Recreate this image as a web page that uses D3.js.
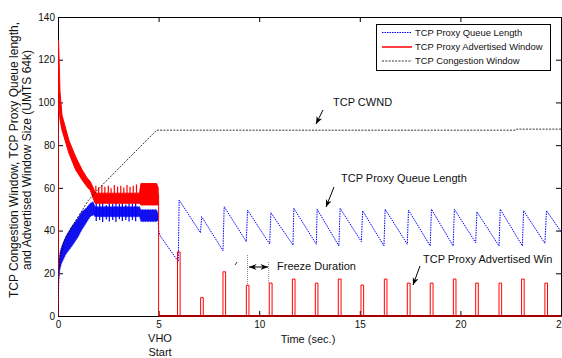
<!DOCTYPE html>
<html><head><meta charset="utf-8">
<script src="https://cdn.jsdelivr.net/npm/d3@7"></script>
<style>
html,body{margin:0;padding:0;background:#fff;}
svg{display:block;font-family:"Liberation Sans",Arial,Helvetica,sans-serif;}
</style></head>
<body><svg id="c" width="562" height="358"></svg>
<script>
// ---------- data ----------
const xTicks = [0, 5, 10, 15, 20, 25];
const yTicks = [0, 20, 40, 60, 80, 100, 120, 140];

// TCP congestion window
const cwndT = [0, 0.02, 0.1, 0.3, 0.6, 1.0, 1.5, 2.0, 4.9, 22.75, 22.8, 25];
const cwndV = [0, 20, 28, 35, 40.5, 46.5, 54, 59.4, 87, 87, 87.5, 87.5];

// Advertised window: dense oscillation before VHO (envelope)
const advBandT  = [0.01, 0.03, 0.06, 0.1, 0.2, 0.55, 0.88, 1.2, 1.45, 1.6, 1.75, 1.85, 4.05, 4.12, 4.9, 4.98];
const advBandHi = [129, 128, 118, 105, 94, 82, 74.5, 68.4, 64.6, 63, 60, 57.5, 57.5, 62, 62, 60];
const advBandLo = [120, 108, 97, 92, 87, 76, 68.4, 63.7, 60.4, 59, 55, 52.8, 52.8, 52, 52, 52];
const advSpikeT = [1.88, 2.02, 2.18, 2.33, 2.5, 2.64, 2.8, 2.96, 3.12, 3.27, 3.43, 3.58, 3.74, 3.9];
const advSpikeV = [61, 60.3, 61.3, 60.5, 61, 59.8, 61.3, 60.6, 61, 60.2, 61.3, 60.5, 61, 61.6];
// Advertised window after VHO: pulses
const advDropV = 57;
const pulseStart  = [5.94, 7.09, 8.2, 9.36, 10.5, 11.65, 12.79, 13.93, 15.06, 16.22, 17.36, 18.5, 19.65, 20.76, 21.92, 23.04, 24.2];
const pulseEnd    = [6.07, 7.22, 8.33, 9.49, 10.64, 11.78, 12.92, 14.07, 15.19, 16.35, 17.5, 18.64, 19.78, 20.89, 22.05, 23.17, 24.33];
const pulseHeight = [30, 8.6, 20.7, 14.4, 15.4, 17.3, 15.4, 17.3, 14.5, 17.3, 15.4, 15.4, 17.3, 15.4, 15.4, 17.3, 15.4];

// Proxy queue length: dense oscillation before VHO (envelope)
const qBandT  = [0.02, 0.05, 0.1, 0.18, 0.4, 0.68, 1.0, 1.18, 1.4, 1.6, 1.75, 1.85, 4.05, 4.12, 4.9, 4.97];
const qBandHi = [22, 26, 30, 32.5, 37.5, 41.8, 46, 48.8, 50.5, 52.8, 53.5, 51.2, 51.2, 49.8, 49.8, 48];
const qBandLo = [10, 17, 22, 24.7, 29, 32.5, 37, 40.3, 43.5, 46.5, 47.3, 46.5, 46.5, 44.2, 44.2, 45];
const qSpikeT  = [1.9, 2.07, 2.22, 2.4, 2.55, 2.72, 2.88, 3.05, 3.2, 3.37, 3.53, 3.7, 3.86];
const qSpikeHi = [53, 52.5, 53.2, 52, 53, 52.6, 53.2, 52.4, 53, 52.2, 53, 52.5, 53.2];
const qSpikeLo = [44.5, 45, 44, 45.2, 44.3, 45, 44, 45.3, 44.5, 45, 44.2, 45, 44.4];
// Proxy queue length after VHO: sawtooth
const qT = [4.97, 5.0, 5.08, 5.98, 6.02, 7.08, 7.14, 8.2, 8.26, 9.36, 9.42, 10.52, 10.58, 11.68, 11.72, 12.84, 12.88, 13.96, 14.02, 15.08, 15.14, 16.2, 16.26, 17.36, 17.42, 18.5, 18.56, 19.64, 19.7, 20.76, 20.82, 21.92, 21.98, 23.08, 23.14, 24.2, 24.28, 25];
const qV = [47, 40, 37.5, 25.5, 54.3, 39, 46.5, 30.6, 51.2, 34.8, 49.6, 33.7, 48.4, 33.2, 50.4, 33.6, 50, 32.8, 50.4, 34.8, 49.3, 32.8, 50, 33.6, 49.6, 32.8, 50, 32.8, 50, 34.3, 48.8, 32.8, 50, 32.8, 49.3, 34, 49.3, 39.5];

const legendLabels = ["TCP Proxy Queue Length", "TCP Proxy Advertised Window", "TCP Congestion Window"];
const yTitle = ["TCP Congestion Window, TCP Proxy Queue length,", "and Advertised Window Size (UMTS 64k)"];

// ---------- chart ----------
const svg = d3.select("#c");
const L = 58, R = 561, T = 17, B = 316;
const x = d3.scaleLinear().domain([0, 25]).range([L, R]);
const y = d3.scaleLinear().domain([0, 140]).range([B, T]);

const defs = svg.append("defs");
defs.append("clipPath").attr("id", "clip").append("rect")
  .attr("x", L).attr("y", T - 1).attr("width", R - L + 1).attr("height", B - T + 2);
defs.append("marker").attr("id", "ah").attr("viewBox", "0 0 10 8")
  .attr("refX", 10).attr("refY", 4).attr("markerWidth", 8).attr("markerHeight", 6)
  .attr("markerUnits", "userSpaceOnUse").attr("orient", "auto-start-reverse")
  .append("path").attr("d", "M0,0L10,4L0,8L3,4Z").attr("fill", "#000");

// axes (inward ticks on all four sides)
const fmt = d3.format("d");
const gx = svg.append("g").attr("transform", `translate(0,${B})`)
  .call(d3.axisBottom(x).tickValues(xTicks).tickFormat(fmt).tickSizeInner(-5).tickSizeOuter(0).tickPadding(5));
const gxt = svg.append("g").attr("transform", `translate(0,${T})`)
  .call(d3.axisTop(x).tickValues(xTicks).tickFormat("").tickSizeInner(-5).tickSizeOuter(0));
const gy = svg.append("g").attr("transform", `translate(${L},0)`)
  .call(d3.axisLeft(y).tickValues(yTicks).tickFormat(fmt).tickSizeInner(-5).tickSizeOuter(0).tickPadding(3));
const gyr = svg.append("g").attr("transform", `translate(${R},0)`)
  .call(d3.axisRight(y).tickValues(yTicks).tickFormat("").tickSizeInner(-5).tickSizeOuter(0));
[gx, gxt, gy, gyr].forEach(g => {
  g.selectAll("path.domain").attr("stroke", "#000").attr("stroke-width", 1);
  g.selectAll(".tick line").attr("stroke", "#000").attr("stroke-width", 1);
  g.selectAll(".tick text").attr("fill", "#111").attr("font-size", 10)
    .attr("font-family", "'Liberation Sans',Arial,sans-serif");
});

const plot = svg.append("g").attr("clip-path", "url(#clip)");

// queue length (blue)
const qBand = qBandT.map((t, i) => ({t, hi: qBandHi[i], lo: qBandLo[i]}));
plot.append("path").datum(qBand)
  .attr("d", d3.area().x(d => x(d.t)).y0(d => y(d.lo)).y1(d => y(d.hi)))
  .attr("fill", "#1010f0").attr("stroke", "#2020ff").attr("stroke-width", 0.8).attr("stroke-dasharray", "1.5,1");
plot.append("path").datum([[0, 0], [0.02, qBandLo[0]]])
  .attr("d", d3.line().x(d => x(d[0])).y(d => y(d[1])))
  .attr("fill", "none").attr("stroke", "#0000ff").attr("stroke-width", 1).attr("stroke-dasharray", "1.5,1");
plot.selectAll("line.qs").data(qSpikeT).join("line").attr("class", "qs")
  .attr("x1", d => x(d)).attr("x2", d => x(d))
  .attr("y1", (d, i) => y(qSpikeLo[i])).attr("y2", (d, i) => y(qSpikeHi[i]))
  .attr("stroke", "#0000ff").attr("stroke-width", 1.2);
plot.append("path").datum(qT.map((t, i) => [t, qV[i]]))
  .attr("d", d3.line().x(d => x(d[0])).y(d => y(d[1])))
  .attr("fill", "none").attr("stroke", "#0000ff").attr("stroke-width", 1).attr("stroke-dasharray", "1.5,1");

// advertised window (red)
const advBand = advBandT.map((t, i) => ({t, hi: advBandHi[i], lo: advBandLo[i]}));
plot.append("path").datum(advBand)
  .attr("d", d3.area().x(d => x(d.t)).y0(d => y(d.lo)).y1(d => y(d.hi)))
  .attr("fill", "#ff0000").attr("stroke", "#ff0000").attr("stroke-width", 1);
plot.append("path").datum([[0, 0], [0, advBandHi[0]]])
  .attr("d", d3.line().x(d => x(d[0])).y(d => y(d[1])))
  .attr("fill", "none").attr("stroke", "#ff0000").attr("stroke-width", 1.5);
plot.selectAll("line.as").data(advSpikeT).join("line").attr("class", "as")
  .attr("x1", d => x(d)).attr("x2", d => x(d))
  .attr("y1", y(advBandHi[11])).attr("y2", (d, i) => y(advSpikeV[i]))
  .attr("stroke", "#ff0000").attr("stroke-width", 1.2);
const pulsePts = [[5, advDropV], [5, 0]];
pulseStart.forEach((s, i) => {
  pulsePts.push([s, 0], [s, pulseHeight[i]], [pulseEnd[i], pulseHeight[i]], [pulseEnd[i], 0]);
});
pulsePts.push([25, 0]);
plot.append("path").datum(pulsePts)
  .attr("d", d3.line().x(d => x(d[0])).y(d => y(d[1])))
  .attr("fill", "none").attr("stroke", "#ff0000").attr("stroke-width", 1);
plot.append("line").attr("x1", x(5)).attr("x2", x(25)).attr("y1", y(0)).attr("y2", y(0))
  .attr("stroke", "#a80000").attr("stroke-width", 2);

// congestion window (black dashed)
plot.append("path").datum(cwndT.map((t, i) => [t, cwndV[i]]))
  .attr("d", d3.line().x(d => x(d[0])).y(d => y(d[1])))
  .attr("fill", "none").attr("stroke", "#000").attr("stroke-width", 0.8).attr("stroke-dasharray", "2,1.3");

// ---------- legend ----------
const lg = svg.append("g");
lg.append("rect").attr("x", 376.5).attr("y", 24.5).attr("width", 174).attr("height", 46)
  .attr("fill", "#fff").attr("stroke", "#000").attr("stroke-width", 1);
const lgStyles = [
  {c: "#0000ff", da: "1.5,1", w: 1},
  {c: "#ff0000", da: null, w: 1.5},
  {c: "#000", da: "2,1.3", w: 0.8}
];
const lgY = [32.5, 47, 61];
legendLabels.forEach((lab, i) => {
  lg.append("line").attr("x1", 382).attr("x2", 412).attr("y1", lgY[i]).attr("y2", lgY[i])
    .attr("stroke", lgStyles[i].c).attr("stroke-width", lgStyles[i].w)
    .attr("stroke-dasharray", lgStyles[i].da);
  lg.append("text").attr("x", 415).attr("y", lgY[i]).attr("dy", "0.35em")
    .attr("font-size", 9.4).attr("fill", "#111").text(lab);
});

// ---------- labels ----------
const yt = svg.append("text").attr("transform", "translate(14,160) rotate(-90)")
  .attr("text-anchor", "middle").attr("font-size", 12).attr("fill", "#111");
yt.append("tspan").attr("x", 0).attr("dy", "0.35em").text(yTitle[0]);
yt.append("tspan").attr("x", 0).attr("dy", "1.1em").text(yTitle[1]);

svg.append("text").attr("x", 308).attr("y", 343).attr("text-anchor", "middle")
  .attr("font-size", 11).attr("fill", "#111").text("Time (sec.)");
svg.append("text").attr("x", 160).attr("y", 342).attr("text-anchor", "middle")
  .attr("font-size", 11).attr("fill", "#111").text("VHO");
svg.append("text").attr("x", 160).attr("y", 356).attr("text-anchor", "middle")
  .attr("font-size", 11).attr("fill", "#111").text("Start");

// ---------- annotations ----------
const ann = svg.append("g").attr("font-size", 11).attr("fill", "#111");
ann.append("text").attr("x", 333).attr("y", 106).text("TCP CWND");
ann.append("text").attr("x", 341).attr("y", 182).text("TCP Proxy Queue Length");
ann.append("text").attr("x", 277).attr("y", 270).text("Freeze Duration");
ann.append("text").attr("x", 423).attr("y", 263).text("TCP Proxy Advertised Win");

function arrow(x1, y1, x2, y2, both) {
  const l = svg.append("line").attr("x1", x1).attr("y1", y1).attr("x2", x2).attr("y2", y2)
    .attr("stroke", "#000").attr("stroke-width", 1).attr("marker-end", "url(#ah)");
  if (both) l.attr("marker-start", "url(#ah)");
}
arrow(323, 110, 316, 124);
arrow(334, 187, 326, 207);
arrow(420, 266, 413, 285);
arrow(249, 267, 268, 267, true);
svg.append("line").attr("x1", 247.5).attr("x2", 247.5).attr("y1", 255).attr("y2", 286)
  .attr("stroke", "#666").attr("stroke-width", 0.8).attr("stroke-dasharray", "1,1");
svg.append("line").attr("x1", 268.7).attr("x2", 268.7).attr("y1", 262).attr("y2", 284)
  .attr("stroke", "#666").attr("stroke-width", 0.8).attr("stroke-dasharray", "1,1");
svg.append("line").attr("x1", 235).attr("x2", 237).attr("y1", 265).attr("y2", 262)
  .attr("stroke", "#000").attr("stroke-width", 0.8);
</script></body></html>
